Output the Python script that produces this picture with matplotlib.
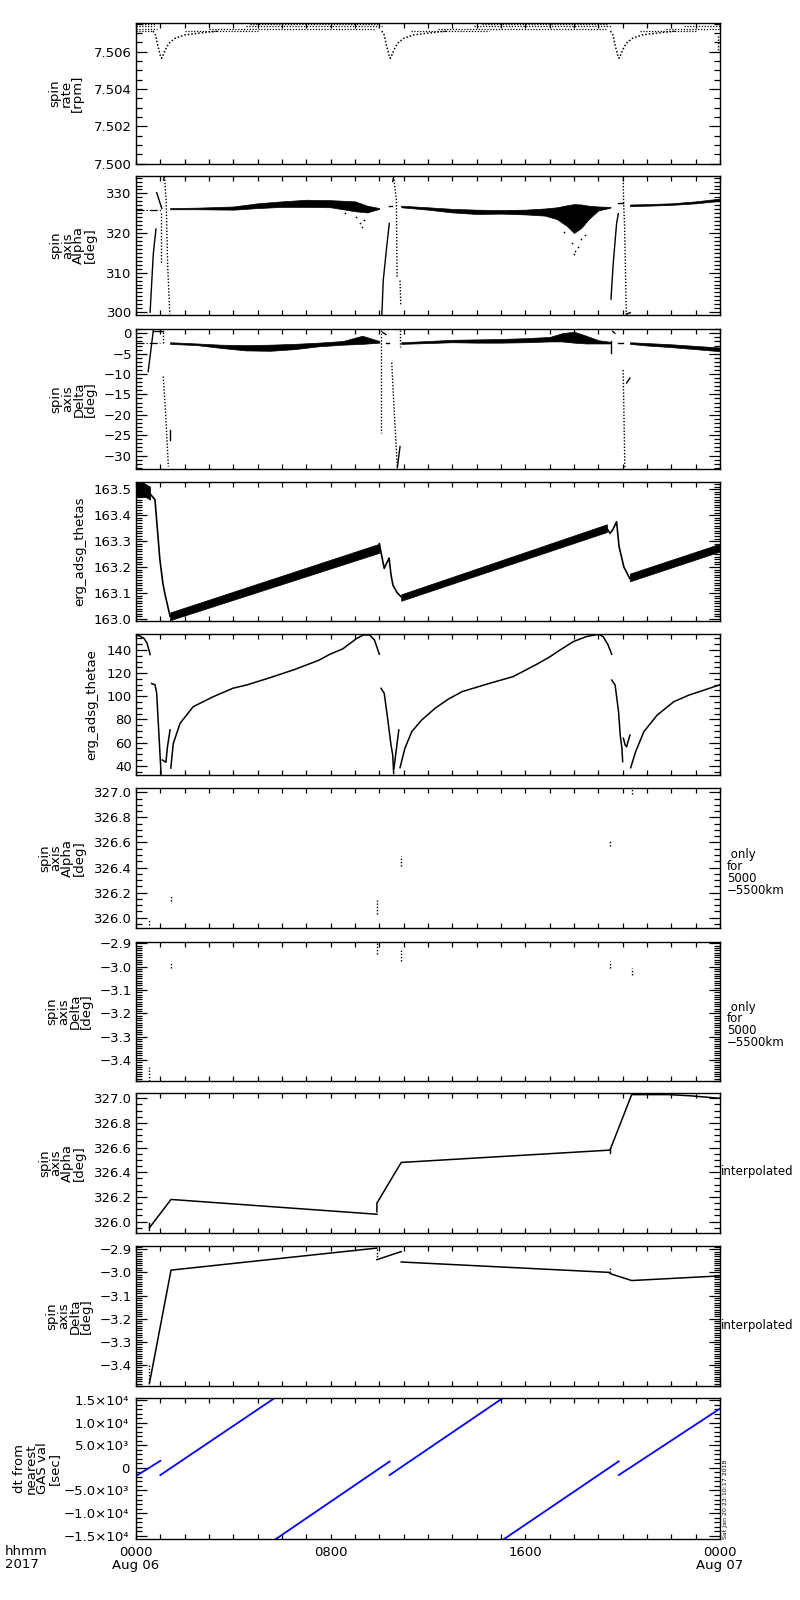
import matplotlib
matplotlib.use('Agg')
import matplotlib.pyplot as plt
from matplotlib.ticker import FixedLocator, MultipleLocator

# ---- panel 1: spin rate [rpm] ----
rate_seg_t0 = [0.0, 0.0, 0.0, 0.0, 2.0, 3.0, 4.5, 4.7, 11.3, 12.4, 13.9, 14.2, 20.7, 21.8, 22.5]
rate_seg_t1 = [0.78, 0.72, 0.85, 0.70, 5.0, 9.8, 10.1, 10.0, 14.5, 19.3, 19.5, 19.4, 23.0, 24.0, 24.0]
rate_seg_v = [7.50747, 7.50738, 7.50724, 7.50711, 7.50711, 7.50724, 7.50738, 7.50747,
              7.50711, 7.50724, 7.50738, 7.50747, 7.50711, 7.50724, 7.50738]
dip_v = [7.50711, 7.50690, 7.50630, 7.50580, 7.50565, 7.50578, 7.50610, 7.50645, 7.50672, 7.50690, 7.50700, 7.50711]
dip1_t = [0.70, 0.80, 0.90, 1.00, 1.05, 1.10, 1.20, 1.35, 1.60, 2.00, 2.60, 3.40]
dip2_t = [10.10, 10.20, 10.30, 10.40, 10.45, 10.50, 10.60, 10.75, 11.00, 11.40, 12.00, 12.80]
dip3_t = [19.50, 19.60, 19.70, 19.80, 19.85, 19.90, 20.00, 20.15, 20.40, 20.80, 21.40, 22.20]
rate_end_t = [23.92, 23.92]
rate_end_v = [7.50610, 7.50690]

# ---- panel 2: spin axis Alpha [deg] ----
al_b1_t = [1.4, 2.5, 4.0, 5.0, 6.0, 7.0, 8.0, 9.0, 9.5, 10.0]
al_b1_hi = [326.3, 326.4, 326.7, 327.5, 328.0, 328.4, 328.3, 328.0, 326.9, 326.3]
al_b1_lo = [326.0, 326.0, 325.9, 326.3, 326.6, 326.6, 326.5, 325.5, 325.2, 326.1]
al_b2_t = [10.9, 12.0, 13.0, 14.0, 15.0, 16.0, 16.8, 17.3, 17.7, 18.0, 18.3, 18.6, 19.0, 19.5]
al_b2_hi = [326.9, 326.5, 326.1, 325.9, 325.8, 325.9, 326.2, 326.5, 327.0, 327.3, 327.2, 326.9, 326.7, 326.6]
al_b2_lo = [326.5, 325.9, 325.2, 324.8, 324.9, 324.7, 324.4, 323.5, 321.8, 320.0, 321.3, 323.5, 325.7, 326.4]
al_b3_t = [20.3, 21.0, 22.0, 23.0, 24.0]
al_b3_hi = [327.2, 327.3, 327.5, 328.0, 328.7]
al_b3_lo = [326.8, 326.9, 327.1, 327.5, 328.1]
al_out_t = [8.6, 9.05, 9.2, 9.3, 9.35, 17.6, 17.9, 18.0, 18.05, 18.15, 18.3, 18.45]
al_out_v = [325.0, 324.0, 322.5, 321.5, 323.3, 320.2, 317.5, 314.8, 315.5, 316.5, 318.5, 319.6]
al_solid = [
    ([0.58, 0.71, 0.82], [300.0, 314.7, 321.0]),
    ([0.85, 1.06], [330.2, 326.2]),
    ([1.13, 1.17], [333.4, 334.3]),
    ([10.10, 10.16, 10.30, 10.41], [298.6, 308.0, 316.4, 322.4]),
    ([10.41, 10.51], [326.8, 326.8]),
    ([10.55, 10.59], [333.0, 334.3]),
    ([19.52, 19.61, 19.75, 19.82], [303.3, 312.2, 322.4, 324.9]),
    ([19.82, 20.02], [327.5, 327.5]),
    ([20.15, 20.31], [299.5, 299.9]),
]
al_dotted = [
    ([1.03, 1.03], [325.0, 312.3]),
    ([1.17, 1.24, 1.30, 1.39], [334.3, 328.0, 312.0, 299.5]),
    ([10.59, 10.70, 10.73], [334.3, 328.3, 308.8]),
    ([10.85, 10.88], [308.0, 302.0]),
    ([20.02, 20.04, 20.08, 20.15], [334.3, 327.5, 321.5, 299.5]),
]
al_dashdot = ([0.0, 1.06], [325.9, 325.9])

# ---- panel 3: spin axis Delta [deg] ----
de_b1_t = [1.4, 2.5, 3.5, 4.5, 5.5, 6.5, 7.5, 8.5, 9.3, 10.0]
de_b1_hi = [-2.2, -2.5, -2.8, -2.9, -2.8, -2.6, -2.3, -1.9, -0.6, -1.9]
de_b1_lo = [-2.6, -2.9, -3.6, -4.2, -4.3, -3.9, -3.2, -2.8, -2.6, -2.3]
de_b2_t = [10.9, 12.0, 13.0, 14.0, 15.0, 16.0, 17.0, 17.5, 18.0, 18.5, 19.0, 19.5]
de_b2_hi = [-2.2, -1.9, -1.6, -1.5, -1.4, -1.2, -0.9, 0.0, 0.4, -0.6, -1.7, -2.1]
de_b2_lo = [-2.6, -2.4, -2.2, -2.3, -2.3, -2.2, -2.0, -2.0, -2.3, -2.5, -2.5, -2.5]
de_b3_t = [20.3, 21.0, 22.0, 23.0, 24.0]
de_b3_hi = [-2.2, -2.4, -2.7, -3.1, -3.5]
de_b3_lo = [-2.6, -3.0, -3.4, -3.9, -4.4]
de_solid = [
    ([0.50, 0.71], [-9.4, 0.6]),
    ([0.71, 1.10], [0.5, 0.5]),
    ([1.40, 1.40], [-23.7, -26.1]),
    ([10.14, 10.27], [0.2, -0.3]),
    ([10.27, 10.41], [-2.45, -2.45]),
    ([10.74, 10.85], [-33.0, -27.8]),
    ([19.52, 19.52], [-2.0, -4.9]),
    ([19.59, 19.68], [0.5, 0.0]),
    ([19.82, 20.02], [-2.45, -2.45]),
    ([20.16, 20.30], [-12.2, -11.0]),
]
de_dotted = [
    ([1.10, 1.10], [0.3, -2.6]),
    ([1.12, 1.22, 1.33], [-10.6, -20.0, -32.7]),
    ([10.08, 10.08], [0.8, -24.5]),
    ([10.51, 10.62, 10.74], [-7.2, -20.0, -33.0]),
    ([10.85, 10.85], [0.7, -3.3]),
    ([20.02, 20.09], [-9.0, -33.0]),
]
de_dashdot = ([0.0, 0.99], [-2.45, -2.45])

# ---- panel 4: erg_adsg_thetas ----
ts_b0_t = [0.0, 0.2, 0.4, 0.58]
ts_b0_hi = [163.53, 163.53, 163.52, 163.51]
ts_b0_lo = [163.47, 163.47, 163.47, 163.46]
ts_b1_t = [1.4, 10.0]
ts_b1_hi = [163.025, 163.29]
ts_b1_lo = [162.995, 163.255]
ts_b2_t = [10.9, 19.35]
ts_b2_hi = [163.095, 163.365]
ts_b2_lo = [163.07, 163.335]
ts_b3_t = [20.3, 24.0]
ts_b3_hi = [163.175, 163.29]
ts_b3_lo = [163.145, 163.26]
ts_drops = [
    ([0.60, 0.78, 0.98, 1.10, 1.18, 1.40], [163.48, 163.46, 163.23, 163.14, 163.10, 163.01]),
    ([10.00, 10.20, 10.40, 10.48, 10.56, 10.74, 10.90], [163.29, 163.195, 163.235, 163.17, 163.13, 163.10, 163.085]),
    ([19.35, 19.48, 19.60, 19.75, 19.85, 20.05, 20.30], [163.35, 163.33, 163.345, 163.375, 163.28, 163.20, 163.155]),
]

# ---- panel 5: erg_adsg_thetae ----
te_lines = [
    ([0.0, 0.16, 0.33, 0.45, 0.53, 0.58], [153, 152, 150, 146, 140, 136]),
    ([0.64, 0.78, 0.85, 1.03], [111, 110, 102.6, 33]),
    ([1.08, 1.23, 1.29, 1.40], [45, 43, 56, 71]),
    ([1.43, 1.53, 1.81, 2.35, 3.17, 3.99, 4.54, 5.5, 6.5, 7.5, 7.97, 8.5, 9.07, 9.35, 9.6, 9.8, 10.0],
     [38, 59, 76.6, 91, 99.6, 107, 109.7, 116, 123, 131, 136.3, 141, 150, 153, 153, 148.6, 136.3]),
    ([10.07, 10.2, 10.34, 10.48, 10.55, 10.59], [106.9, 102.6, 81, 57.9, 49.2, 33.4]),
    ([10.6, 10.8], [37.7, 70.9]),
    ([10.85, 11.05, 11.33, 11.74, 12.29, 12.84, 13.4, 14.5, 15.5, 16.5, 17.0, 17.43, 17.97, 18.5, 19.0, 19.2, 19.4, 19.55],
     [38.3, 55, 69.4, 79.5, 89.6, 97.6, 104, 111, 117, 128, 134, 140, 147.2, 151.5, 153.6, 151.5, 144.3, 136.3]),
    ([19.55, 19.69, 19.83, 19.9, 19.97, 20.0], [114, 109.7, 86.7, 66.5, 55, 43.5]),
    ([20.03, 20.1, 20.16, 20.3], [63.7, 58, 56.4, 66.5]),
    ([20.33, 20.53, 20.87, 21.42, 22.1, 22.72, 23.3, 24.0], [38.3, 52, 69.4, 83.8, 95.3, 101, 105, 110]),
]

# ---- panels 6/7: only for 5000-5500 km ----
oa_t = [0.55, 1.44, 9.9, 10.9, 19.48, 20.37]
oa_lo = [325.94, 326.13, 326.03, 326.41, 326.57, 326.99]
oa_hi = [325.99, 326.18, 326.14, 326.49, 326.61, 327.03]
od_t = [0.55, 1.44, 9.9, 10.9, 19.48, 20.37]
od_lo = [-3.49, -3.005, -2.945, -2.975, -3.006, -3.035]
od_hi = [-3.43, -2.985, -2.900, -2.920, -2.977, -3.006]

# ---- panels 8/9: interpolated ----
ia_lines = [
    ([0.55, 1.44, 9.9], [325.95, 326.18, 326.06]),
    ([9.9, 9.9, 10.9, 19.48, 20.37, 21.9, 22.8, 24.0], [326.08, 326.15, 326.48, 326.58, 327.03, 327.03, 327.02, 327.0]),
]
ia_ticks = [([0.55, 0.55], [325.93, 325.99]), ([19.48, 19.48], [326.56, 326.60])]
id_lines = [
    ([0.55, 1.44, 9.9], [-3.48, -2.99, -2.895]),
    ([9.9, 10.9], [-2.945, -2.91]),
    ([10.9, 19.48], [-2.955, -3.0]),
    ([19.48, 20.37, 24.0], [-3.005, -3.035, -3.015]),
]
id_dotted = [([9.9, 9.9], [-2.9, -2.935]), ([19.48, 19.48], [-2.98, -3.0]), ([0.55, 0.55], [-3.40, -3.48])]

# ---- panel 10: dt from nearest GAS val [sec] ----
dt_t0 = [0.0, 1.0, 5.75, 10.42, 15.13, 19.84]
dt_t1 = [1.0, 5.70, 10.42, 15.08, 19.84, 24.0]
dt_v0 = [-1800, -1600, -15730, -1600, -15730, -1600]
dt_v1 = [1550, 15440, 1400, 15440, 1450, 13100]

dt_ticks = [15000, 10000, 5000, 0, -5000, -10000, -15000]
dt_ticklabels = ['1.5×10⁴', '1.0×10⁴', '5.0×10³', '0', '−5.0×10³', '−1.0×10⁴', '−1.5×10⁴']
x_ticks = [0, 8, 16, 24]
x_ticklabels = ['0000\nAug 06', '0800', '1600', '0000\nAug 07']

W, H = 800, 1600
L, R = 136, 720
tops = [23, 176, 329, 482, 634, 788, 942, 1093, 1246, 1398]
bots = [164, 315, 469, 621, 775, 928, 1081, 1233, 1386, 1539]

plt.rcParams['font.family'] = ['DejaVu Sans']
fig = plt.figure(figsize=(8, 16), dpi=100)
fs = 9.5
DOT = (0, (1, 1.3))


def make_ax(i, ylim, major, minor, fmt):
    ax = fig.add_axes([L / W, 1 - bots[i] / H, (R - L) / W, (bots[i] - tops[i]) / H])
    ax.set_xlim(0, 24)
    ax.set_ylim(ylim)
    ax.xaxis.set_major_locator(FixedLocator(x_ticks))
    ax.xaxis.set_minor_locator(MultipleLocator(1))
    ax.yaxis.set_major_locator(FixedLocator(major))
    ax.yaxis.set_minor_locator(MultipleLocator(minor))
    if fmt is not None:
        ax.set_yticklabels([fmt % v for v in major])
    ax.tick_params(which='both', direction='in', top=True, right=True, width=0.9,
                   labelsize=fs, pad=3, labelbottom=False)
    ax.tick_params(axis='y', which='major', length=8)
    ax.tick_params(axis='y', which='minor', length=4)
    ax.tick_params(axis='x', which='both', length=3.6)
    for s in ax.spines.values():
        s.set_linewidth(1.0)
    return ax


def ylab(i, x, text):
    yc = (tops[i] + bots[i]) / 2
    fig.text(x / W, 1 - yc / H, text, rotation=90, ha='center', va='center',
             fontsize=fs, multialignment='center', linespacing=0.85)


def rlab(y, text, x=727):
    fig.text(x / W, 1 - y / H, text, ha='left', va='center', fontsize=8.5, linespacing=0.9)


# panel 1
ax = make_ax(0, (7.49999, 7.50754), [7.500, 7.502, 7.504, 7.506], 0.0005, '%.3f')
for t0, t1, v in zip(rate_seg_t0, rate_seg_t1, rate_seg_v):
    ax.plot([t0, t1], [v, v], color='k', lw=0.9, ls=DOT)
for dt_ in (dip1_t, dip2_t, dip3_t):
    ax.plot(dt_, dip_v, color='k', lw=1.1, ls=DOT)
ax.plot(rate_end_t, rate_end_v, color='k', lw=1.0, ls=DOT)
ylab(0, 66, 'spin\nrate\n[rpm]')

# panel 2
ax = make_ax(1, (299.3, 334.4), [300, 310, 320, 330], 1, '%d')
for t, lo, hi in ((al_b1_t, al_b1_lo, al_b1_hi), (al_b2_t, al_b2_lo, al_b2_hi), (al_b3_t, al_b3_lo, al_b3_hi)):
    ax.fill_between(t, lo, hi, color='k', lw=0.5)
ax.scatter(al_out_t, al_out_v, s=1.5, color='k', lw=0)
for t, v in al_solid:
    ax.plot(t, v, color='k', lw=1.0)
for t, v in al_dotted:
    ax.plot(t, v, color='k', lw=1.0, ls=DOT)
ax.plot(*al_dashdot, color='k', lw=0.9, ls='-.')
ylab(1, 73, 'spin\naxis\nAlpha\n[deg]')

# panel 3
ax = make_ax(2, (-33.3, 1.05), [0, -5, -10, -15, -20, -25, -30], 1, None)
ax.set_yticklabels(['0', '−5', '−10', '−15', '−20', '−25', '−30'])
for t, lo, hi in ((de_b1_t, de_b1_lo, de_b1_hi), (de_b2_t, de_b2_lo, de_b2_hi), (de_b3_t, de_b3_lo, de_b3_hi)):
    ax.fill_between(t, lo, hi, color='k', lw=0.5)
for t, v in de_solid:
    ax.plot(t, v, color='k', lw=1.0)
for t, v in de_dotted:
    ax.plot(t, v, color='k', lw=1.0, ls=DOT)
ax.plot(*de_dashdot, color='k', lw=0.9, ls='-.')
ylab(2, 73, 'spin\naxis\nDelta\n[deg]')

# panel 4
ax = make_ax(3, (162.992, 163.528), [163.0, 163.1, 163.2, 163.3, 163.4, 163.5], 0.01, '%.1f')
for t, lo, hi in ((ts_b0_t, ts_b0_lo, ts_b0_hi), (ts_b1_t, ts_b1_lo, ts_b1_hi),
                  (ts_b2_t, ts_b2_lo, ts_b2_hi), (ts_b3_t, ts_b3_lo, ts_b3_hi)):
    ax.fill_between(t, lo, hi, color='k', lw=0.5)
for t, v in ts_drops:
    ax.plot(t, v, color='k', lw=1.2)
ylab(3, 80, 'erg_adsg_thetas')

# panel 5
ax = make_ax(4, (32, 153.8), [40, 60, 80, 100, 120, 140], 5, '%d')
for t, v in te_lines:
    ax.plot(t, v, color='k', lw=1.1)
ylab(4, 92, 'erg_adsg_thetae')

# panel 6
ax = make_ax(5, (325.918, 327.034), [326.0, 326.2, 326.4, 326.6, 326.8, 327.0], 0.05, '%.1f')
for t, lo, hi in zip(oa_t, oa_lo, oa_hi):
    ax.plot([t, t], [lo, hi], color='k', lw=1.0, ls=DOT)
ylab(5, 62, 'spin\naxis\nAlpha\n[deg]')
rlab(872, ' only\nfor\n5000\n−5500km')

# panel 7
ax = make_ax(6, (-3.49, -2.894), [-3.4, -3.3, -3.2, -3.1, -3.0, -2.9], 0.01, None)
ax.set_yticklabels(['−3.4', '−3.3', '−3.2', '−3.1', '−3.0', '−2.9'])
for t, lo, hi in zip(od_t, od_lo, od_hi):
    ax.plot([t, t], [lo, hi], color='k', lw=1.0, ls=DOT)
ylab(6, 69, 'spin\naxis\nDelta\n[deg]')
rlab(1025, ' only\nfor\n5000\n−5500km')

# panel 8
ax = make_ax(7, (325.908, 327.043), [326.0, 326.2, 326.4, 326.6, 326.8, 327.0], 0.05, '%.1f')
for t, v in ia_lines:
    ax.plot(t, v, color='k', lw=1.1)
for t, v in ia_ticks:
    ax.plot(t, v, color='k', lw=1.0)
ylab(7, 62, 'spin\naxis\nAlpha\n[deg]')
rlab(1172, 'interpolated', x=721)

# panel 9
ax = make_ax(8, (-3.49, -2.886), [-3.4, -3.3, -3.2, -3.1, -3.0, -2.9], 0.01, None)
ax.set_yticklabels(['−3.4', '−3.3', '−3.2', '−3.1', '−3.0', '−2.9'])
for t, v in id_lines:
    ax.plot(t, v, color='k', lw=1.1)
for t, v in id_dotted:
    ax.plot(t, v, color='k', lw=1.0, ls=DOT)
ylab(8, 69, 'spin\naxis\nDelta\n[deg]')
rlab(1325, 'interpolated', x=721)

# panel 10
ax = make_ax(9, (-15730, 15440), dt_ticks, 1000, None)
ax.set_yticklabels(dt_ticklabels)
for t0, t1, v0, v1 in zip(dt_t0, dt_t1, dt_v0, dt_v1):
    ax.plot([t0, t1], [v0, v1], color='#0000ff', lw=1.3)
ax.tick_params(labelbottom=True, pad=5)
ax.set_xticklabels(x_ticklabels, fontsize=fs, linespacing=1.0)
ylab(9, 37, 'dt from\nnearest\nGAS val\n[sec]')

fig.text(5 / W, 1 - 1545 / H, 'hhmm\n2017', ha='left', va='top', fontsize=fs, linespacing=1.0)
fig.text(723 / W, 1 - 1539 / H, 'Sat Jan 20 23:10:17 2018', rotation=90, ha='left', va='bottom', fontsize=4.5)

fig.savefig('out.png', dpi=100)
